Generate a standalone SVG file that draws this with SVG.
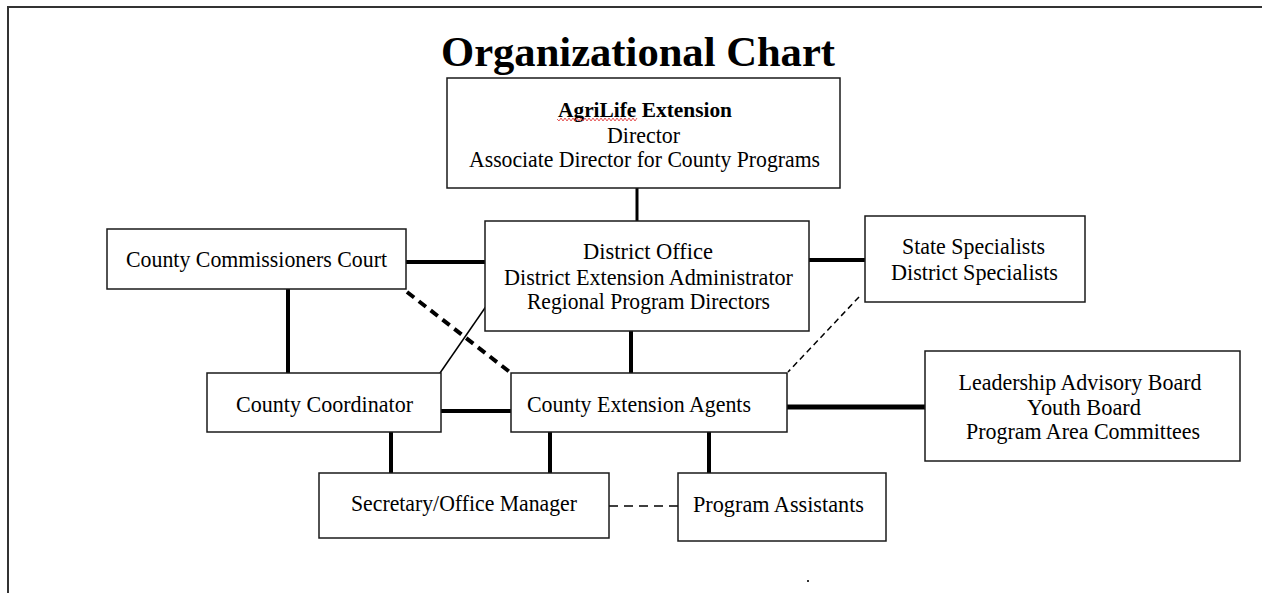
<svg xmlns="http://www.w3.org/2000/svg" width="1262" height="593" viewBox="0 0 1262 593">
<style>
.box{fill:#fff;stroke:#1a1a1a;stroke-width:1.5}
.t{font-family:"Liberation Serif","Times New Roman",serif;font-size:24px;fill:#000;text-anchor:middle}
.b{font-weight:bold;font-size:21px}
.title{font-family:"Liberation Serif","Times New Roman",serif;font-size:42px;font-weight:bold;fill:#000;text-anchor:middle}
.thick{stroke:#000;stroke-width:4;fill:none}
.thin{stroke:#000;stroke-width:1.5;fill:none}
.dash{stroke-dasharray:9 6}
.dashs{stroke-dasharray:6 4}
.frame{stroke:#333;stroke-width:2;fill:none}
</style>
<rect width="1262" height="593" fill="#fff"/>
<path class="frame" d="M8 593 V7 H1262"/>
<text class="title" x="638" y="66" textLength="394" lengthAdjust="spacingAndGlyphs">Organizational Chart</text>

<g id="connectors">
  <line class="thick" x1="637" y1="188" x2="637" y2="221" style="stroke-width:3"/>
  <line class="thick" x1="406" y1="262" x2="485" y2="262"/>
  <line class="thick" x1="809" y1="260" x2="865" y2="260"/>
  <line class="thick" x1="288" y1="289" x2="288" y2="373"/>
  <line class="thick dash" x1="407" y1="292" x2="511" y2="373"/>
  <line class="thin" x1="487" y1="305" x2="440" y2="373"/>
  <line class="thick" x1="631" y1="331" x2="631" y2="373"/>
  <line class="thin dashs" x1="859" y1="297" x2="788" y2="372"/>
  <line class="thick" x1="441" y1="411" x2="511" y2="411"/>
  <line class="thick" x1="787" y1="407" x2="925" y2="407" style="stroke-width:5"/>
  <line class="thick" x1="391" y1="432" x2="391" y2="473"/>
  <line class="thick" x1="550" y1="432" x2="550" y2="473"/>
  <line class="thick" x1="709" y1="432" x2="709" y2="473"/>
  <line class="thin dash" x1="609" y1="506" x2="678" y2="506"/>
</g>

<g id="director">
  <rect class="box" x="447" y="78" width="393" height="110"/>
  <text class="t b" x="645" y="117" textLength="174" lengthAdjust="spacingAndGlyphs">AgriLife Extension</text>
  <polyline points="557,119 559,121 561,118 563,121 565,118 567,121 569,118 571,121 573,118 575,121 577,118 579,121 581,118 583,121 585,118 587,121 589,118 591,121 593,118 595,121 597,118 599,121 601,118 603,121 605,118 607,121 609,118 611,121 613,118 615,121 617,118 619,121 621,118 623,121 625,118 627,121 629,118 631,121 633,118 635,121 637,118" fill="none" stroke="#e03030" stroke-width="0.8"/>
  <text class="t" x="643.5" y="143" textLength="73" lengthAdjust="spacingAndGlyphs">Director</text>
  <text class="t" x="644.5" y="167" textLength="351" lengthAdjust="spacingAndGlyphs">Associate Director for County Programs</text>
</g>

<g id="commissioners">
  <rect class="box" x="107" y="229" width="299" height="60"/>
  <text class="t" x="256.5" y="267" textLength="261" lengthAdjust="spacingAndGlyphs">County Commissioners Court</text>
</g>

<g id="district">
  <rect class="box" x="485" y="221" width="324" height="110"/>
  <text class="t" x="648" y="259" textLength="130" lengthAdjust="spacingAndGlyphs">District Office</text>
  <text class="t" x="648.5" y="285" textLength="289" lengthAdjust="spacingAndGlyphs">District Extension Administrator</text>
  <text class="t" x="648.5" y="309" textLength="243" lengthAdjust="spacingAndGlyphs">Regional Program Directors</text>
</g>

<g id="specialists">
  <rect class="box" x="865" y="216" width="220" height="86"/>
  <text class="t" x="973.5" y="254" textLength="143" lengthAdjust="spacingAndGlyphs">State Specialists</text>
  <text class="t" x="974.5" y="280" textLength="167" lengthAdjust="spacingAndGlyphs">District Specialists</text>
</g>

<g id="coordinator">
  <rect class="box" x="207" y="373" width="234" height="59"/>
  <text class="t" x="324.5" y="412" textLength="177" lengthAdjust="spacingAndGlyphs">County Coordinator</text>
</g>

<g id="agents">
  <rect class="box" x="511" y="373" width="276" height="59"/>
  <text class="t" x="639" y="412" textLength="224" lengthAdjust="spacingAndGlyphs">County Extension Agents</text>
</g>

<g id="boards">
  <rect class="box" x="925" y="351" width="315" height="110"/>
  <text class="t" x="1080" y="390" textLength="243" lengthAdjust="spacingAndGlyphs">Leadership Advisory Board</text>
  <text class="t" x="1084" y="415" textLength="114" lengthAdjust="spacingAndGlyphs">Youth Board</text>
  <text class="t" x="1083" y="439" textLength="234" lengthAdjust="spacingAndGlyphs">Program Area Committees</text>
</g>

<g id="secretary">
  <rect class="box" x="319" y="473" width="290" height="65"/>
  <text class="t" x="464" y="511" textLength="226" lengthAdjust="spacingAndGlyphs">Secretary/Office Manager</text>
</g>

<g id="assistants">
  <rect class="box" x="678" y="473" width="208" height="68"/>
  <text class="t" x="778.5" y="512" textLength="171" lengthAdjust="spacingAndGlyphs">Program Assistants</text>
</g>

<rect x="807" y="580" width="2" height="2" fill="#333"/>
</svg>
